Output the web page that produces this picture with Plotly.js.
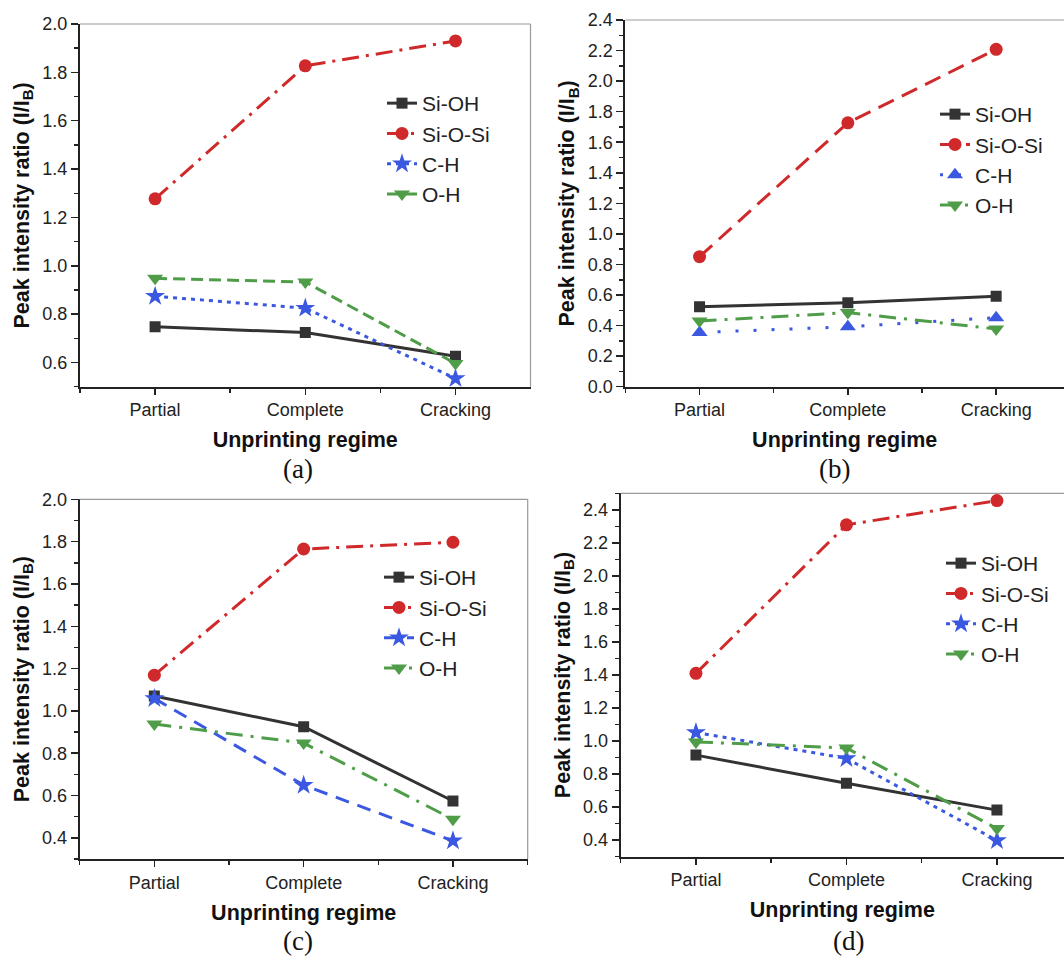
<!DOCTYPE html>
<html><head><meta charset="utf-8">
<script src="https://cdn.plot.ly/plotly-3.0.1.min.js"></script>
<style>html,body{margin:0;padding:0;background:#fff}</style>
</head><body><div id="chart" style="width:1064px;height:956px"></div>
<script>
// ---- data ----
const regimes = ['Partial', 'Complete', 'Cracking'];
const seriesNames = ['Si-OH', 'Si-O-Si', 'C-H', 'O-H'];
const panelLabels = ['(a)', '(b)', '(c)', '(d)'];
const xTitle = 'Unprinting regime';
const yTitle = 'Peak intensity ratio (I/I<sub>B</sub>)';

// panel (a)
const a_SiOH  = [0.748, 0.724, 0.626];
const a_SiOSi = [1.277, 1.827, 1.930];
const a_CH    = [0.874, 0.825, 0.534];
const a_OH    = [0.948, 0.933, 0.596];
// panel (b)
const b_SiOH  = [0.523, 0.550, 0.592];
const b_SiOSi = [0.851, 1.727, 2.208];
const b_CH    = [0.355, 0.392, 0.452];
const b_OH    = [0.430, 0.485, 0.378];
// panel (c)
const c_SiOH  = [1.070, 0.925, 0.574];
const c_SiOSi = [1.169, 1.765, 1.797];
const c_CH    = [1.059, 0.649, 0.386];
const c_OH    = [0.938, 0.848, 0.488];
// panel (d)
const d_SiOH  = [0.915, 0.745, 0.582];
const d_SiOSi = [1.410, 2.309, 2.456];
const d_CH    = [1.052, 0.895, 0.398];
const d_OH    = [0.995, 0.958, 0.470];

const panelData = [
  [a_SiOH, a_SiOSi, a_CH, a_OH],
  [b_SiOH, b_SiOSi, b_CH, b_OH],
  [c_SiOH, c_SiOSi, c_CH, c_OH],
  [d_SiOH, d_SiOSi, d_CH, d_OH]
];
const yRanges = [[0.5, 2.0], [0.0, 2.4], [0.3, 2.0], [0.3, 2.5]];

// ---- styles ----
const colors = ['#333333', '#cf292b', '#3a58e0', '#4f9d48'];
const symbols = [
  ['square', 'circle', 'star', 'triangle-down'],
  ['square', 'circle', 'triangle-up', 'triangle-down'],
  ['square', 'circle', 'star', 'triangle-down'],
  ['square', 'circle', 'star', 'triangle-down']
];
const markerSizes = {'square': 11, 'circle': 13, 'star': 15, 'triangle-up': 14, 'triangle-down': 14};
const dashes = [
  ['solid', '17px,7px,3px,7px', '4px,5px', '12px,6px'],
  ['solid', '17px,9px', '3px,15px', '17px,8px,3px,8px'],
  ['solid', '17px,7px,3px,7px', '14px,9px', '17px,8px,3px,8px'],
  ['solid', '17px,7px,3px,7px', '4px,5px', '17px,8px,3px,8px']
];

const W = 1064, H = 956;
// plot boxes in px: [left, right, top, bottom]
const boxes = [
  [80, 530.5, 24, 386.7],
  [625.4, 1064, 20, 386.7],
  [79.7, 527.7, 499.3, 859],
  [620.7, 1064, 493.3, 856.7]
];
const catSpacing = [150.2, 148.3, 149.3, 150.5];
const legendPos = [[382, 83], [935, 94], [379, 557], [941, 543]];
const labelPos = [[298, 469], [834, 469], [298, 941], [848, 941]];

const xIdx = regimes.map((_, i) => i);
const traces = [];
const layout = {
  width: W, height: H,
  margin: {l: 0, r: 0, t: 0, b: 0},
  paper_bgcolor: '#fff', plot_bgcolor: '#fff',
  font: {family: 'Liberation Sans, Arial, sans-serif', color: '#222', size: 20},
  showlegend: true,
  shapes: [], annotations: []
};

for (let p = 0; p < 4; p++) {
  const sfx = p === 0 ? '' : String(p + 1);
  const xa = 'x' + sfx, ya = 'y' + sfx;
  const lg = 'legend' + sfx;
  for (let s = 0; s < 4; s++) {
    const sym = symbols[p][s];
    traces.push({
      type: 'scatter', mode: 'lines+markers',
      x: xIdx, y: panelData[p][s], name: seriesNames[s],
      xaxis: xa, yaxis: ya, legend: lg,
      line: {color: colors[s], width: 3, dash: dashes[p][s]},
      marker: {symbol: sym, size: markerSizes[sym], color: colors[s]},
      hoverinfo: 'skip'
    });
  }
  const b = boxes[p];
  const xr1 = -0.5 + (b[1] - b[0]) / catSpacing[p];
  layout['xaxis' + sfx] = {
    domain: [b[0] / W, b[1] / W], anchor: ya,
    range: [-0.5, xr1], fixedrange: true,
    tickmode: 'array', tickvals: xIdx, ticktext: regimes,
    showline: true, linecolor: '#222', linewidth: 2,
    ticks: 'outside', ticklen: 6, tickwidth: 1.5, tickcolor: '#222',
    minor: {ticks: 'outside', ticklen: 4, tickwidth: 1.5, tickcolor: '#222', tick0: 0.5, dtick: 1},
    showgrid: false, zeroline: false,
    tickfont: {size: 18, color: '#222'},
    title: {text: xTitle, font: {size: 21.5, color: '#111', weight: 'bold'}, standoff: 13}
  };
  layout['yaxis' + sfx] = {
    domain: [1 - b[3] / H, 1 - b[2] / H], anchor: xa,
    range: yRanges[p], fixedrange: true,
    tick0: 0, dtick: 0.2, tickformat: '.1f',
    showline: true, linecolor: '#222', linewidth: 2,
    ticks: 'outside', ticklen: 7, tickwidth: 1.5, tickcolor: '#222',
    minor: {ticks: 'outside', ticklen: 4, tickwidth: 1.5, tickcolor: '#222', dtick: 0.1},
    showgrid: false, zeroline: false,
    tickfont: {size: 18, color: '#222'},
    title: {text: yTitle, font: {size: 21.5, color: '#111', weight: 'bold'}, standoff: 7}
  };
  // light frame on top (and right if visible)
  layout.shapes.push({type: 'line', xref: xa + ' domain', yref: ya + ' domain',
    x0: 0, x1: 1, y0: 1, y1: 1, line: {color: '#9a9a9a', width: 1.2}});
  if (b[1] < W - 1) {
    layout.shapes.push({type: 'line', xref: xa + ' domain', yref: ya + ' domain',
      x0: 1, x1: 1, y0: 0, y1: 1, line: {color: '#9a9a9a', width: 1.2}});
  }
  layout[lg] = {
    x: legendPos[p][0] / W, y: 1 - legendPos[p][1] / H,
    xanchor: 'left', yanchor: 'top', xref: 'paper', yref: 'paper',
    bgcolor: 'rgba(0,0,0,0)', borderwidth: 0,
    font: {family: 'Liberation Sans, Arial, sans-serif', size: 21, color: '#222'},
    tracegroupgap: 0, itemsizing: 'trace'
  };
  layout.annotations.push({
    text: panelLabels[p], xref: 'paper', yref: 'paper',
    x: labelPos[p][0] / W, y: 1 - labelPos[p][1] / H,
    xanchor: 'center', yanchor: 'middle', showarrow: false,
    font: {family: 'Liberation Serif, Times New Roman, serif', size: 27, color: '#111'}
  });
}

Plotly.newPlot('chart', traces, layout, {staticPlot: true, displayModeBar: false});
</script>
</body></html>
